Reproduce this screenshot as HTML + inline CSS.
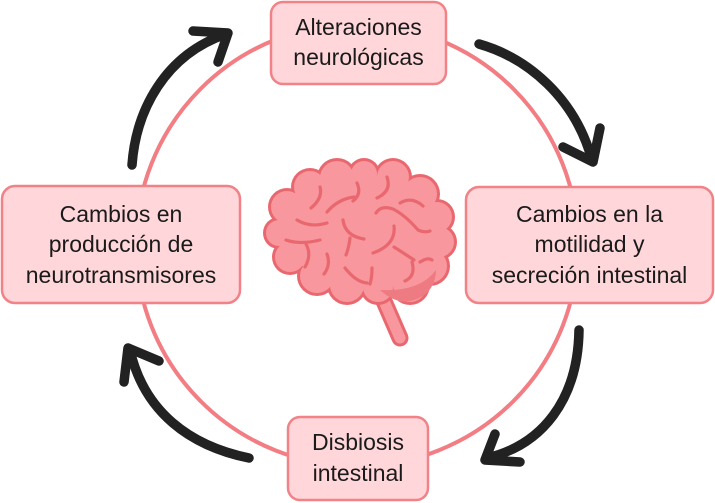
<!DOCTYPE html>
<html>
<head>
<meta charset="utf-8">
<style>
  html,body{margin:0;padding:0;background:#fff;}
  svg{display:block;}
  text{font-family:"Liberation Sans",Arial,sans-serif;font-size:23px;fill:#1a1a1a;text-anchor:middle;}
</style>
</head>
<body>
<svg width="715" height="503" viewBox="0 0 715 503" xmlns="http://www.w3.org/2000/svg">
  <!-- main ring -->
  <circle cx="357" cy="245" r="221" fill="none" stroke="#f27d83" stroke-width="4"/>

  <!-- brain stem -->
  <line x1="380" y1="292" x2="400" y2="338" stroke="#e9686f" stroke-width="17" stroke-linecap="round"/>
  <line x1="380" y1="292" x2="400" y2="338" stroke="#f8979d" stroke-width="11" stroke-linecap="round"/>

  <!-- brain outline (union of bumps) -->
  <g fill="#e9686f">
    <circle cx="287" cy="207" r="19"/>
    <circle cx="310" cy="187" r="19"/>
    <circle cx="337" cy="178" r="20"/>
    <circle cx="364" cy="174" r="16"/>
    <circle cx="393" cy="177" r="19"/>
    <circle cx="420" cy="194" r="20"/>
    <circle cx="437" cy="217" r="18"/>
    <circle cx="439" cy="242" r="18"/>
    <circle cx="430" cy="266" r="20"/>
    <circle cx="410" cy="285" r="20"/>
    <circle cx="378" cy="287" r="18"/>
    <circle cx="347" cy="285" r="20"/>
    <circle cx="317" cy="276" r="20"/>
    <circle cx="290" cy="257" r="18"/>
    <circle cx="279" cy="233" r="16"/>
  </g>
  <g fill="#f8979d">
    <circle cx="287" cy="207" r="16"/>
    <circle cx="310" cy="187" r="16"/>
    <circle cx="337" cy="178" r="17"/>
    <circle cx="364" cy="174" r="13"/>
    <circle cx="393" cy="177" r="16"/>
    <circle cx="420" cy="194" r="17"/>
    <circle cx="437" cy="217" r="15"/>
    <circle cx="439" cy="242" r="15"/>
    <circle cx="430" cy="266" r="17"/>
    <circle cx="410" cy="285" r="17"/>
    <circle cx="378" cy="287" r="15"/>
    <circle cx="347" cy="285" r="17"/>
    <circle cx="317" cy="276" r="17"/>
    <circle cx="290" cy="257" r="15"/>
    <circle cx="279" cy="233" r="13"/>
    <polygon points="287,207 310,187 337,178 364,174 393,177 420,194 437,217 439,242 430,266 410,285 378,287 347,285 317,276 290,257 279,233"/>
    <ellipse cx="360" cy="232" rx="72" ry="52"/>
  </g>
  <!-- cerebellum -->
  <path d="M380,290 Q404,312 428,292 Q436,282 436,270 Q420,292 380,290 Z" fill="#ee7b82"/>

  <!-- sulci -->
  <g fill="none" stroke="#e9686f" stroke-width="3.2" stroke-linecap="round" stroke-linejoin="round">
    <path d="M320,187 Q323,198 311,208"/>
    <path d="M297,220 Q310,228 327,223"/>
    <path d="M327,212 Q338,199 354,197"/>
    <path d="M357,183 Q362,194 353,201"/>
    <path d="M387,177 Q392,191 377,198"/>
    <path d="M343,220 Q345,236 364,239"/>
    <path d="M350,238 Q349,247 346,255"/>
    <path d="M286,240 Q300,245 320,240"/>
    <path d="M306,244 Q312,255 305,267"/>
    <path d="M327,254 Q331,265 324,274"/>
    <path d="M376,213 Q381,205 393,209 Q405,215 418,230 Q425,233 430,231"/>
    <path d="M400,203 Q412,196 423,206"/>
    <path d="M394,226 Q396,245 373,253"/>
    <path d="M394,247 Q405,254 414,260"/>
    <path d="M412,262 Q416,276 405,281"/>
    <path d="M420,262 Q428,257 432,260"/>
    <path d="M345,268 Q356,282 367,283"/>
    <path d="M372,268 Q372,278 370,284"/>
  </g>

  <!-- arrows -->
  <g fill="none" stroke="#222" stroke-width="9.5" stroke-linecap="round" stroke-linejoin="round">
    <path d="M132,165 C136,110 165,55 226,34"/>
    <path d="M193,31 L228,33 L218,62"/>
    <path d="M479,44 C528,58 575,98 592,160"/>
    <path d="M563,147 L593,162 L600,128"/>
    <path d="M579,330 C578,400 542,445 487,458"/>
    <path d="M495,434 L485,460 L520,462"/>
    <path d="M249,458 C190,446 144,412 130,350"/>
    <path d="M124,382 L128,348 L159,361"/>
  </g>

  <!-- boxes -->
  <g fill="#ffd6d9" stroke="#f08288" stroke-width="2.5">
    <rect x="271" y="2" width="175" height="82" rx="12"/>
    <rect x="2" y="186" width="238" height="117" rx="13"/>
    <rect x="466" y="187" width="247" height="116" rx="13"/>
    <rect x="288" y="417" width="140" height="83" rx="12"/>
  </g>

  <!-- labels -->
  <text x="358.5" y="35">Alteraciones</text>
  <text x="358.5" y="65">neurológicas</text>

  <text x="121" y="222">Cambios en</text>
  <text x="121" y="252">producción de</text>
  <text x="121" y="283">neurotransmisores</text>

  <text x="589.5" y="222">Cambios en la</text>
  <text x="589.5" y="252">motilidad y</text>
  <text x="589.5" y="283">secreción intestinal</text>

  <text x="358" y="450">Disbiosis</text>
  <text x="358" y="481">intestinal</text>
</svg>
</body>
</html>
